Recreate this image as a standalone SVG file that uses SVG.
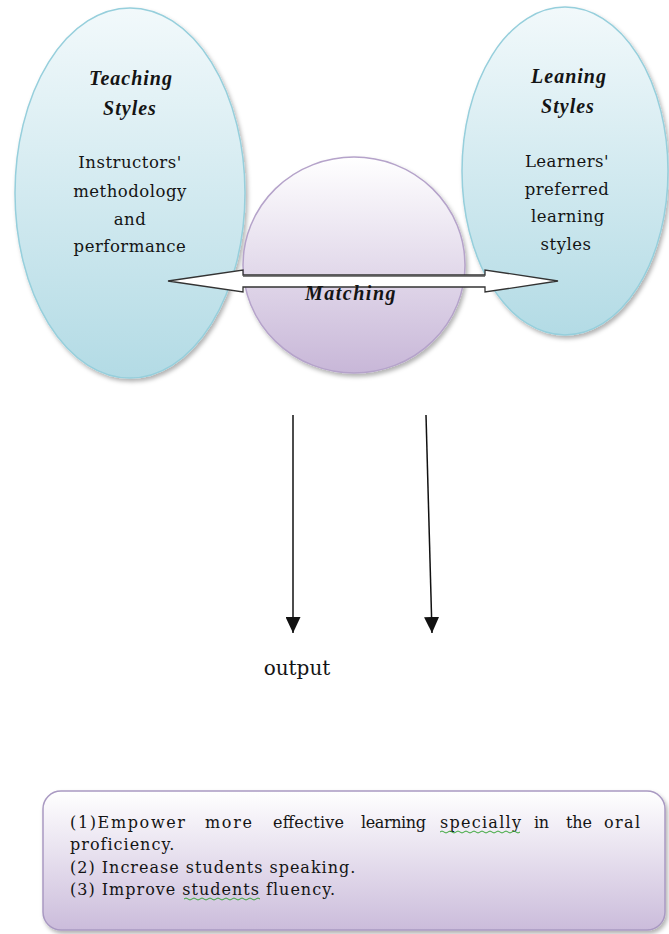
<svg xmlns="http://www.w3.org/2000/svg" width="669" height="934" viewBox="0 0 669 934">
<style>
.title{font-family:"Liberation Serif",serif;font-weight:bold;font-style:italic;font-size:20px;letter-spacing:1px;fill:#141414;text-anchor:middle}
.body{font-family:"DejaVu Serif","Liberation Serif",serif;font-size:16.5px;letter-spacing:0.5px;fill:#141414;text-anchor:middle}
.box{font-family:"DejaVu Serif","Liberation Serif",serif;font-size:16px;letter-spacing:1px;fill:#141414}
.out{font-family:"DejaVu Serif","Liberation Serif",serif;font-size:20px;fill:#141414;text-anchor:middle}
.conn{stroke:#111;stroke-width:1.5;fill:none}
.squig{stroke:#3aa63a;stroke-width:1;fill:none}
</style>
<defs>
<linearGradient id="blue" x1="0" y1="0" x2="0" y2="1">
<stop offset="0" stop-color="#f2f9fb"/>
<stop offset="1" stop-color="#b3dbe5"/>
</linearGradient>
<linearGradient id="purple" x1="0" y1="0" x2="0" y2="1">
<stop offset="0" stop-color="#ffffff"/>
<stop offset="1" stop-color="#c8b7d8"/>
</linearGradient>
<linearGradient id="boxg" x1="0" y1="0" x2="0" y2="1">
<stop offset="0" stop-color="#ffffff"/>
<stop offset="1" stop-color="#cbbcdb"/>
</linearGradient>
<filter id="sh" x="-10%" y="-10%" width="125%" height="125%">
<feDropShadow dx="2" dy="3" stdDeviation="2" flood-color="#000" flood-opacity="0.3"/>
</filter>
<marker id="ah" markerWidth="16" markerHeight="15" refX="16" refY="7.5" orient="auto" markerUnits="userSpaceOnUse" viewBox="0 0 16 15">
<path d="M0,0 L16,7.5 L0,15 Z" fill="#111"/>
</marker>
</defs>
<rect width="669" height="934" fill="#ffffff"/>

<g id="teaching">
<ellipse cx="130" cy="193" rx="115" ry="185" fill="url(#blue)" stroke="#96cfdc" stroke-width="1.5" filter="url(#sh)"/>
<text class="title" x="131" y="85">Teaching</text>
<text class="title" x="130" y="115">Styles</text>
<text class="body" x="130" y="168">Instructors'</text>
<text class="body" x="130" y="197">methodology</text>
<text class="body" x="130" y="225">and</text>
<text class="body" x="130" y="252">performance</text>
</g>

<g id="learning">
<ellipse cx="565" cy="171" rx="103" ry="164" fill="url(#blue)" stroke="#96cfdc" stroke-width="1.5" filter="url(#sh)"/>
<text class="title" x="569" y="83">Leaning</text>
<text class="title" x="568" y="113">Styles</text>
<text class="body" x="567" y="167">Learners'</text>
<text class="body" x="567" y="195">preferred</text>
<text class="body" x="568" y="222">learning</text>
<text class="body" x="566" y="250">styles</text>
</g>

<g id="matching">
<ellipse cx="354" cy="265" rx="111" ry="108" fill="url(#purple)" stroke="#b5a3ca" stroke-width="1.5" filter="url(#sh)"/>
</g>

<g id="connectors">
<path d="M168,281 L243,270 L243,275 L485,275 L485,270 L558,281 L485,292 L485,287 L243,287 L243,292 Z" fill="#ffffff" stroke="#333" stroke-width="1.3" stroke-linejoin="miter"/>
<line x1="243" y1="276" x2="485" y2="276" stroke="#555" stroke-width="1.5"/>
<line class="conn" x1="293" y1="415" x2="293" y2="633" marker-end="url(#ah)"/>
<line class="conn" x1="426" y1="415" x2="432" y2="633" marker-end="url(#ah)"/>
</g>

<g id="matching-label">
<text class="title" x="351" y="300" style="letter-spacing:1.5px">Matching</text>
</g>

<g id="output-label">
<text class="out" x="297" y="675">output</text>
</g>

<g id="outcomes">
<rect x="43" y="791" width="622" height="139" rx="18" ry="18" fill="url(#boxg)" stroke="#a999c2" stroke-width="1.5" filter="url(#sh)"/>
<text class="box" y="828" style="letter-spacing:0"><tspan x="70" textLength="115" lengthAdjust="spacing">(1)Empower</tspan><tspan x="205" textLength="47" lengthAdjust="spacing">more</tspan><tspan x="273" textLength="71" lengthAdjust="spacing">effective</tspan><tspan x="361" textLength="65" lengthAdjust="spacing">learning</tspan><tspan x="440" textLength="81" lengthAdjust="spacing">specially</tspan><tspan x="534" textLength="15" lengthAdjust="spacing">in</tspan><tspan x="566" textLength="26" lengthAdjust="spacing">the</tspan><tspan x="604" textLength="36" lengthAdjust="spacing">oral</tspan></text>
<text class="box" x="70" y="850">proficiency.</text>
<text class="box" x="70" y="873">(2) Increase students speaking.</text>
<text class="box" x="70" y="895">(3) Improve students fluency.</text>
<path class="squig" d="M440,832 q2,-2 4,0 t4,0 t4,0 t4,0 t4,0 t4,0 t4,0 t4,0 t4,0 t4,0 t4,0 t4,0 t4,0 t4,0 t4,0 t4,0 t4,0 t4,0 t4,0 t4,0"/>
<path class="squig" d="M184,899 q2,-2 4,0 t4,0 t4,0 t4,0 t4,0 t4,0 t4,0 t4,0 t4,0 t4,0 t4,0 t4,0 t4,0 t4,0 t4,0 t4,0 t4,0 t4,0 t4,0"/>
</g>
</svg>
